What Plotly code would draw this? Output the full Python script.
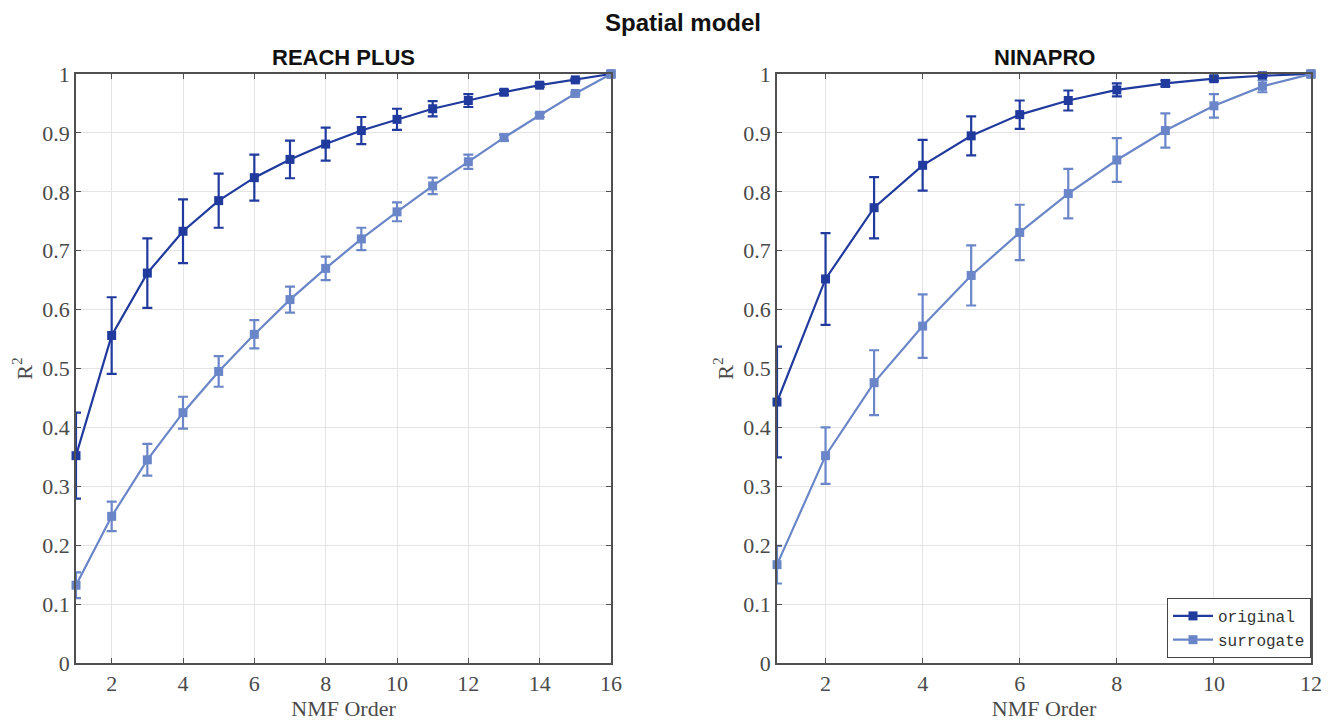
import plotly.graph_objects as go

# NMF orders
reach_orders = list(range(1, 17))
ninapro_orders = list(range(1, 13))

# REACH PLUS: mean R^2 and standard deviation
reach_original = [0.352, 0.556, 0.662, 0.733, 0.785, 0.824, 0.855, 0.881, 0.904, 0.923,
                  0.941, 0.955, 0.969, 0.981, 0.990, 1.000]
reach_original_sd = [0.073, 0.065, 0.059, 0.054, 0.046, 0.039, 0.032, 0.028, 0.023, 0.018,
                     0.013, 0.011, 0.004, 0.003, 0.002, 0.0]
reach_surrogate = [0.132, 0.249, 0.345, 0.425, 0.495, 0.558, 0.617, 0.670, 0.720, 0.766,
                   0.810, 0.851, 0.892, 0.930, 0.967, 1.000]
reach_surrogate_sd = [0.022, 0.025, 0.027, 0.027, 0.026, 0.024, 0.022, 0.020, 0.019, 0.016,
                      0.014, 0.012, 0.005, 0.003, 0.002, 0.0]

# NINAPRO: mean R^2 and standard deviation
ninapro_original = [0.443, 0.652, 0.773, 0.845, 0.895, 0.931, 0.955, 0.973, 0.984, 0.992,
                    0.997, 1.000]
ninapro_original_sd = [0.094, 0.078, 0.052, 0.043, 0.033, 0.024, 0.017, 0.011, 0.005, 0.004,
                       0.002, 0.0]
ninapro_surrogate = [0.167, 0.352, 0.476, 0.572, 0.658, 0.731, 0.797, 0.854, 0.904, 0.946,
                     0.979, 1.000]
ninapro_surrogate_sd = [0.032, 0.048, 0.055, 0.054, 0.051, 0.047, 0.042, 0.037, 0.029, 0.020,
                        0.010, 0.0]

y_ticks = [0, 0.1, 0.2, 0.3, 0.4, 0.5, 0.6, 0.7, 0.8, 0.9, 1]
y_tick_text = ["0", "0.1", "0.2", "0.3", "0.4", "0.5", "0.6", "0.7", "0.8", "0.9", "1"]
reach_x_ticks = [2, 4, 6, 8, 10, 12, 14, 16]
ninapro_x_ticks = [2, 4, 6, 8, 10, 12]

DARK = "#203a9e"
LIGHT = "#6a86c8"
TICK_FONT = dict(family="Liberation Serif", size=22, color="#4a4a4a")
AXIS_COLOR = "#505050"
GRID = "#e4e4e4"

# plot area in pixels
W, H = 1333, 724
L, R, T, B = 76, 22, 74, 61
PW, PH = W - L - R, H - T - B


def px_x(p):
    return (p - L) / PW


def px_y(p):
    return (H - B - p) / PH


def series(x, y, sd, color, name, xa, ya, show):
    return go.Scatter(
        x=x, y=y, mode="lines+markers", name=name,
        line=dict(color=color, width=2.2),
        marker=dict(symbol="square", size=9, color=color),
        error_y=dict(type="data", array=sd, visible=True, color=color,
                     thickness=2.2, width=5),
        xaxis=xa, yaxis=ya, showlegend=show, cliponaxis=False,
    )


fig = go.Figure()
fig.add_trace(series(reach_orders, reach_original, reach_original_sd, DARK, "original", "x", "y", False))
fig.add_trace(series(reach_orders, reach_surrogate, reach_surrogate_sd, LIGHT, "surrogate", "x", "y", False))
fig.add_trace(series(ninapro_orders, ninapro_original, ninapro_original_sd, DARK, "original", "x2", "y2", True))
fig.add_trace(series(ninapro_orders, ninapro_surrogate, ninapro_surrogate_sd, LIGHT, "surrogate", "x2", "y2", True))


def x_axis(domain, rng, ticks, anchor):
    return dict(
        domain=domain, range=rng, anchor=anchor, tickvals=ticks,
        ticktext=[str(t) for t in ticks], tickfont=TICK_FONT, automargin=False,
        showgrid=True, gridcolor=GRID, gridwidth=1,
        showline=True, linecolor=AXIS_COLOR, linewidth=1.6, mirror="ticks",
        ticks="inside", ticklen=5, tickcolor=AXIS_COLOR, zeroline=False,
        title=dict(text="NMF Order", font=TICK_FONT, standoff=4),
    )


def y_axis(domain, anchor):
    return dict(
        domain=domain, range=[0, 1], anchor=anchor, tickvals=y_ticks,
        ticktext=y_tick_text, tickfont=TICK_FONT, automargin=False,
        showgrid=True, gridcolor=GRID, gridwidth=1,
        showline=True, linecolor=AXIS_COLOR, linewidth=1.6, mirror="ticks",
        ticks="inside", ticklen=5, tickcolor=AXIS_COLOR, zeroline=False,
        title=dict(text="R<sup>2</sup>", font=TICK_FONT, standoff=4),
    )


fig.update_layout(
    width=W, height=H,
    margin=dict(l=L, r=R, t=T, b=B, autoexpand=False),
    paper_bgcolor="white", plot_bgcolor="white",
    xaxis=x_axis([0, px_x(611)], [1, 16], reach_x_ticks, "y"),
    yaxis=y_axis([0, 1], "x"),
    xaxis2=x_axis([px_x(777), 1], [1, 12], ninapro_x_ticks, "y2"),
    yaxis2=y_axis([0, 1], "x2"),
    legend=dict(
        x=1.0, y=px_y(658), xanchor="right", yanchor="bottom",
        bgcolor="white", bordercolor="#444444", borderwidth=1,
        font=dict(family="Liberation Mono", size=16, color="#333333"),
        tracegroupgap=0, itemwidth=40,
    ),
    annotations=[
        dict(text="<b>Spatial model</b>", x=px_x(683), y=px_y(22), xref="paper", yref="paper",
             xanchor="center", yanchor="middle", showarrow=False,
             font=dict(family="Liberation Sans", size=24, color="#111111")),
        dict(text="<b>REACH PLUS</b>", x=px_x(343), y=px_y(57),
             xanchor="center", yanchor="middle",
             xref="paper", yref="paper", showarrow=False,
             font=dict(family="Liberation Sans", size=22, color="#111111")),
        dict(text="<b>NINAPRO</b>", x=px_x(1044), y=px_y(57),
             xanchor="center", yanchor="middle",
             xref="paper", yref="paper", showarrow=False,
             font=dict(family="Liberation Sans", size=22, color="#111111")),
    ],
)

fig.write_html("out.html")
